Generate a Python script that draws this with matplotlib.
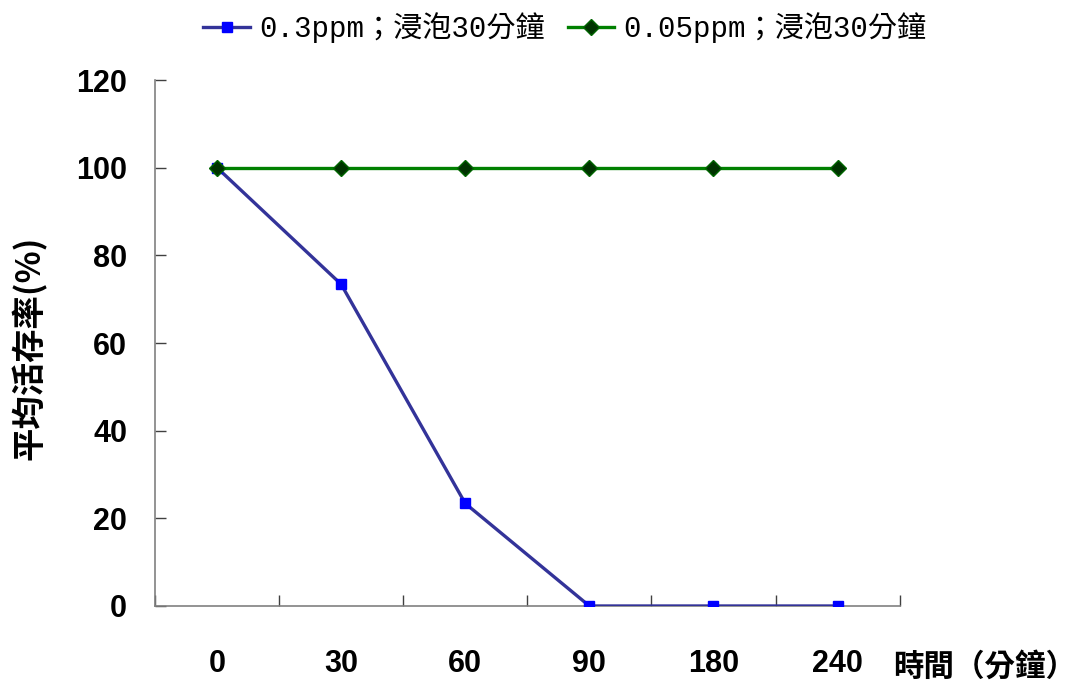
import matplotlib
matplotlib.use("Agg")
import matplotlib.pyplot as plt
import numpy as np

# 浸泡後不同時間的平均活存率
time_labels = ["0", "30", "60", "90", "180", "240"]
survival_03ppm = [100, 73.4, 23.4, 0, 0, 0]
survival_005ppm = [100, 100, 100, 100, 100, 100]
series_names = ["0.3ppm；浸泡30分鐘", "0.05ppm；浸泡30分鐘"]
y_ticks = [0, 20, 40, 60, 80, 100, 120]

CJK = ["Noto Sans CJK TC", "DejaVu Sans"]
LEGEND_FONT = ["Liberation Mono", "Noto Sans CJK TC"]


def main():
    fig = plt.figure(figsize=(10.8, 6.88), dpi=100)
    ax = fig.add_axes([0.1435, 0.1192, 0.6895, 0.7645])

    x = np.arange(len(time_labels))
    ax.plot(x, survival_03ppm, color="#333399", lw=2.4, marker="s",
            markersize=7, markerfacecolor="#0000ff", markeredgecolor="#0000ff",
            label=series_names[0], zorder=3)
    ax.plot(x, survival_005ppm, color="#008000", lw=2.4, marker="D",
            markersize=8, markerfacecolor="#003300", markeredgecolor="#006600",
            label=series_names[1], zorder=4)

    ax.set_xlim(-0.5, len(time_labels) - 0.5)
    ax.set_ylim(0, 120)

    # 類別軸：刻度線在類別分界，標籤在類別中央
    ax.set_xticks(np.arange(len(time_labels) + 1) - 0.5)
    ax.set_xticklabels([])
    ax.set_xticks(x, minor=True)
    ax.set_xticklabels(time_labels, minor=True, fontfamily="Liberation Sans",
                       fontweight="bold", fontsize=22)
    ax.tick_params(axis="x", which="major", direction="in", length=8,
                   width=1, color="#404040")
    ax.tick_params(axis="x", which="minor", length=0, pad=31)

    ax.set_yticks(y_ticks)
    ax.set_yticklabels([str(v) for v in y_ticks], fontfamily="Liberation Sans",
                       fontweight="bold", fontsize=22)
    ax.tick_params(axis="y", direction="in", length=8, width=1,
                   color="#404040", pad=20)

    for side in ("top", "right"):
        ax.spines[side].set_visible(False)
    for side in ("left", "bottom"):
        ax.spines[side].set_color("#808080")
        ax.spines[side].set_linewidth(1.2)

    fig.text(29 / 1080, 1 - 348 / 688, "平均活存率(%)", rotation=90,
             ha="center", va="center", family=CJK, fontweight="bold",
             fontsize=24)
    fig.text(893 / 1080, 1 - 667 / 688, "時間（分鐘）", ha="left", va="center",
             family=CJK, fontweight="bold", fontsize=22)

    fig.legend(loc="center", bbox_to_anchor=(0.523, 0.96), ncol=2,
               frameon=False, handlelength=1.6, handletextpad=0.3,
               columnspacing=0.8, prop={"family": LEGEND_FONT, "size": 21})

    fig.savefig("out.png", dpi=100)


if __name__ == "__main__":
    main()
